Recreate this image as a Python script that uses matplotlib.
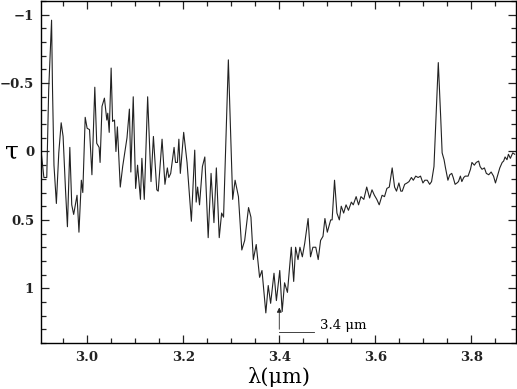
import numpy as np
import matplotlib
matplotlib.use("Agg")
import matplotlib.pyplot as plt
from matplotlib.ticker import MultipleLocator, FuncFormatter

# wavelength (micron) and optical depth
wavelength = [2.904, 2.910, 2.916, 2.920, 2.926, 2.928, 2.931, 2.936, 2.941, 2.946,
              2.950, 2.955, 2.959, 2.964, 2.968, 2.972, 2.979, 2.983, 2.988, 2.991,
              2.996, 3.000, 3.005, 3.010, 3.016, 3.020, 3.025, 3.027, 3.031, 3.036,
              3.041, 3.043, 3.046, 3.050, 3.053, 3.057, 3.060, 3.063, 3.069, 3.074,
              3.077, 3.083, 3.088, 3.091, 3.096, 3.101, 3.105, 3.111, 3.114, 3.119,
              3.126, 3.133, 3.138, 3.145, 3.148, 3.156, 3.162, 3.167, 3.170, 3.174,
              3.181, 3.184, 3.188, 3.191, 3.194, 3.201, 3.208, 3.217, 3.224, 3.227,
              3.230, 3.234, 3.240, 3.245, 3.252, 3.258, 3.264, 3.269, 3.275, 3.280,
              3.284, 3.294, 3.303, 3.308, 3.315, 3.322, 3.328, 3.336, 3.341, 3.346,
              3.352, 3.359, 3.364, 3.372, 3.377, 3.382, 3.389, 3.394, 3.401, 3.406,
              3.411, 3.417, 3.425, 3.430, 3.434, 3.439, 3.443, 3.448, 3.453, 3.460,
              3.465, 3.470, 3.476, 3.481, 3.486, 3.491, 3.495, 3.500, 3.507, 3.510,
              3.515, 3.520, 3.525, 3.529, 3.534, 3.539, 3.544, 3.550, 3.554, 3.560,
              3.565, 3.570, 3.576, 3.582, 3.588, 3.593, 3.598, 3.603, 3.608, 3.614,
              3.619, 3.624, 3.629, 3.635, 3.640, 3.644, 3.649, 3.653, 3.656, 3.661,
              3.666, 3.670, 3.675, 3.679, 3.684, 3.689, 3.694, 3.699, 3.703, 3.708,
              3.713, 3.717, 3.722, 3.725, 3.731, 3.736, 3.739, 3.743, 3.746, 3.751,
              3.755, 3.759, 3.762, 3.766, 3.770, 3.773, 3.777, 3.780, 3.784, 3.787,
              3.793, 3.798, 3.801, 3.806, 3.810, 3.815, 3.818, 3.822, 3.827, 3.831,
              3.836, 3.841, 3.846, 3.850, 3.854, 3.859, 3.864, 3.867, 3.870, 3.874,
              3.877, 3.881, 3.886, 3.890]
tau = [-0.01, 0.19, 0.19, -0.45, -0.96, -0.45, 0.10, 0.38, 0.01, -0.21,
       -0.11, 0.28, 0.55, -0.03, 0.39, 0.46, 0.32, 0.59, 0.21, 0.30,
       -0.25, -0.17, -0.16, 0.17, -0.47, -0.06, -0.03, 0.08, -0.33, -0.39,
       -0.23, -0.28, -0.14, -0.61, -0.22, -0.23, 0.00, -0.18, 0.26, 0.11,
       0.04, -0.10, -0.31, 0.15, -0.40, 0.27, 0.10, 0.35, 0.05, 0.35,
       -0.40, 0.22, -0.11, 0.28, 0.29, -0.09, 0.24, 0.12, 0.19, 0.16,
       -0.03, 0.08, 0.08, -0.09, 0.16, -0.14, 0.08, 0.51, -0.01, 0.37,
       0.26, 0.39, 0.11, 0.04, 0.63, 0.16, 0.52, 0.12, 0.63, 0.45,
       0.48, -0.67, 0.35, 0.21, 0.33, 0.72, 0.65, 0.41, 0.48, 0.79,
       0.68, 0.92, 0.87, 1.18, 0.98, 1.11, 0.89, 1.09, 0.87, 1.17,
       0.96, 1.03, 0.70, 0.95, 0.70, 0.79, 0.70, 0.77, 0.67, 0.49,
       0.77, 0.70, 0.70, 0.79, 0.65, 0.62, 0.49, 0.59, 0.50, 0.50,
       0.21, 0.45, 0.50, 0.40, 0.45, 0.39, 0.43, 0.37, 0.39, 0.33,
       0.39, 0.33, 0.35, 0.26, 0.34, 0.28, 0.32, 0.35, 0.39, 0.32,
       0.33, 0.27, 0.26, 0.12, 0.26, 0.29, 0.23, 0.29, 0.29, 0.24,
       0.23, 0.22, 0.19, 0.21, 0.18, 0.19, 0.18, 0.23, 0.21, 0.21,
       0.24, 0.22, 0.11, -0.14, -0.65, -0.25, 0.01, 0.06, 0.12, 0.21,
       0.17, 0.16, 0.19, 0.24, 0.23, 0.22, 0.18, 0.22, 0.19, 0.18,
       0.18, 0.13, 0.08, 0.10, 0.08, 0.07, 0.11, 0.13, 0.12, 0.16,
       0.17, 0.15, 0.18, 0.23, 0.18, 0.12, 0.08, 0.07, 0.04, 0.06,
       0.02, 0.05, 0.01, 0.02]

plt.rcParams['font.family'] = ['DejaVu Serif']

fig = plt.figure(figsize=(5.17, 3.89), dpi=100)
ax = fig.add_axes([0.0793, 0.1183, 0.919, 0.879])

ax.plot(wavelength, tau, color='#222222', lw=0.8)

ax.set_xlim(2.904, 3.893)
ax.set_ylim(1.40, -1.10)

ax.xaxis.set_major_locator(MultipleLocator(0.2))
ax.xaxis.set_minor_locator(MultipleLocator(0.05))
ax.yaxis.set_major_locator(MultipleLocator(0.5))
ax.yaxis.set_minor_locator(MultipleLocator(0.1))
ax.xaxis.set_major_formatter(FuncFormatter(lambda v, p: f"{v:.1f}"))
ax.yaxis.set_major_formatter(FuncFormatter(lambda v, p: f"{v:g}".replace('-', '\u2212')))

ax.tick_params(which='both', direction='in', top=True, right=True, width=0.9, colors='#222222')
ax.tick_params(which='major', length=6, labelsize=9.5)
ax.tick_params(which='minor', length=3.5)
ax.tick_params(axis='x', pad=6)
ax.tick_params(axis='y', pad=5)
for lab in ax.get_xticklabels() + ax.get_yticklabels():
    lab.set_fontweight('bold')
for s in ax.spines.values():
    s.set_linewidth(1.0)

ax.set_ylabel('\u03c4', rotation=0, fontsize=18, va='center', ha='center')
ax.yaxis.set_label_coords(-0.062, 0.56)
ax.set_xlabel('\u03bb(\u03bcm)', fontsize=15, va='bottom')
ax.xaxis.set_label_coords(0.5, -0.128)

# 3.4 micron feature marker
ax.annotate('', xy=(3.4, 1.12), xytext=(3.4, 1.32),
            arrowprops=dict(arrowstyle='-|>', color='#222222', lw=0.6, mutation_scale=7))
ax.plot([3.4, 3.473], [1.32, 1.32], color='#222222', lw=0.6)
ax.text(3.484, 1.27, '3.4 \u03bcm', fontsize=9.5, va='center', ha='left')

fig.savefig('out.png', dpi=100)
